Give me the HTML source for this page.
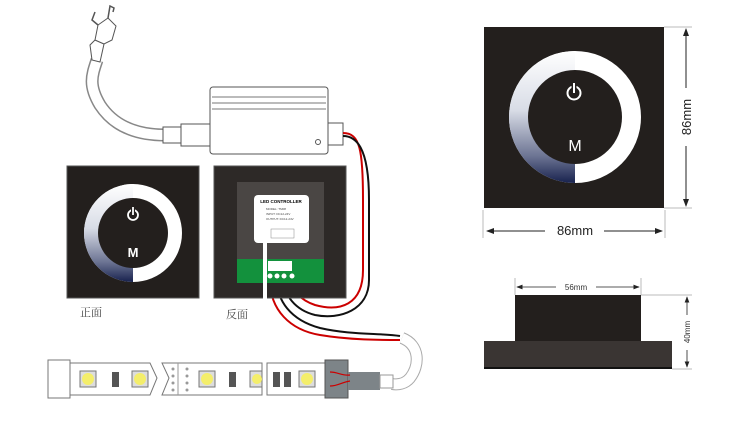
<!DOCTYPE html>
<html><head><meta charset="utf-8"><style>
html,body{margin:0;padding:0;background:#fff;width:750px;height:448px;overflow:hidden}
svg{display:block}
</style></head><body>
<svg width="750" height="448" viewBox="0 0 750 448" xmlns="http://www.w3.org/2000/svg" font-family="Liberation Sans, sans-serif">
<defs>
<linearGradient id="g1" x1="0" y1="0" x2="0" y2="1">
<stop offset="0" stop-color="#fff"/><stop offset="0.45" stop-color="#d8dce6"/><stop offset="0.8" stop-color="#6b7392"/><stop offset="1" stop-color="#18224e"/></linearGradient>
<marker id="ar" markerWidth="8" markerHeight="8" refX="7" refY="4" orient="auto"><path d="M0,1 L8,4 L0,7z" fill="#222"/></marker>
</defs>
<!-- plug & cable -->
<path d="M97,60 C92,75 88,85 100,105 C115,128 140,135 165,135" stroke="#888" stroke-width="13" fill="none"/>
<path d="M97,60 C92,75 88,85 100,105 C115,128 140,135 165,135" stroke="#fff" stroke-width="10" fill="none"/>
<path d="M90,45 L95,40 L104,44 L100,62 L92,60 Z" fill="#fff" stroke="#555"/>
<path d="M95,40 L98,25 L108,18 L116,26 L112,40 L104,44 Z" fill="#fff" stroke="#555"/>
<path d="M98,25 L92,20 L95,12 M108,18 L110,6 L114,8 L113,12" stroke="#555" stroke-width="1.5" fill="none"/>
<rect x="163" y="127" width="18" height="16" fill="#fff" stroke="#555"/>
<rect x="181" y="124" width="29" height="22" fill="#fff" stroke="#555"/>
<!-- controller box -->
<rect x="210" y="87" width="118" height="67" rx="3" fill="#fff" stroke="#555"/>
<line x1="212" y1="97" x2="326" y2="97" stroke="#777"/>
<line x1="212" y1="103" x2="326" y2="103" stroke="#777"/>
<line x1="212" y1="109" x2="326" y2="109" stroke="#777"/>
<circle cx="318" cy="142" r="2.5" fill="#fff" stroke="#555"/>
<rect x="328" y="123" width="15" height="22" fill="#fff" stroke="#555"/>
<!-- wires -->
<path d="M343,133 C360,133 363,150 363,200 L363,270 C363,305 340,312 315,305 C300,300 292,290 292,280" stroke="#c00" stroke-width="2" fill="none"/>
<path d="M343,136 C355,136 369,145 369,200 L369,280 C369,310 340,320 315,315 C295,310 284,295 284,280" stroke="#111" stroke-width="2" fill="none"/>
<path d="M277,280 C277,300 290,320 320,328 C350,335 380,333 400,336" stroke="#111" stroke-width="2" fill="none"/>
<path d="M270,280 C270,310 290,330 320,335 C350,340 380,340 400,340" stroke="#c00" stroke-width="2" fill="none"/>
<path d="M402,338 C420,345 420,365 410,378 C405,384 398,385 392,384" stroke="#aaa" stroke-width="12" fill="none"/>
<path d="M402,338 C420,345 420,365 410,378 C405,384 398,385 392,384" stroke="#fff" stroke-width="10" fill="none"/>
<!-- front panel -->
<rect x="67" y="166" width="132" height="132" fill="#231f1d" stroke="#555"/>
<circle cx="133" cy="233" r="49" fill="#fff"/>
<path d="M133,184 A49,49 0 0 0 133,282 Z" fill="url(#g1)"/>
<circle cx="133" cy="233" r="35" fill="#231f1d"/>
<circle cx="133" cy="215" r="5" fill="none" stroke="#fff" stroke-width="1.8"/>
<line x1="133" y1="207" x2="133" y2="215" stroke="#231f1d" stroke-width="4"/>
<line x1="133" y1="207" x2="133" y2="215" stroke="#fff" stroke-width="1.8"/>
<text x="133" y="257" fill="#fff" font-size="13" font-weight="bold" text-anchor="middle">M</text>
<text x="80" y="316" font-size="11" fill="#444" font-family="Liberation Serif, Noto Serif CJK SC, serif">正面</text>
<!-- back panel -->
<rect x="214" y="166" width="132" height="132" fill="#2d2927" stroke="#555"/>
<rect x="237" y="182" width="87" height="101" fill="#4a4644"/>
<rect x="237" y="259" width="87" height="24" fill="#13913d"/>
<rect x="254" y="195" width="55" height="48" rx="4" fill="#fff"/>
<text x="281" y="203" font-size="4.5" text-anchor="middle" font-weight="bold">LED CONTROLLER</text>
<text x="266" y="210" font-size="3" fill="#444">MODEL: TM08</text>
<text x="266" y="215" font-size="3" fill="#444">INPUT: DC12-24V</text>
<text x="266" y="220" font-size="3" fill="#444">OUTPUT: DC12-24V</text>
<rect x="271" y="229" width="23" height="9" fill="#fff" stroke="#888" stroke-width="0.5"/>
<rect x="268" y="261" width="24" height="10" fill="#fff"/>
<circle cx="270" cy="276" r="2.5" fill="#fff"/><circle cx="277" cy="276" r="2.5" fill="#fff"/><circle cx="284" cy="276" r="2.5" fill="#fff"/><circle cx="292" cy="276" r="2.5" fill="#fff"/>
<line x1="265" y1="243" x2="265" y2="300" stroke="#fff" stroke-width="4"/>
<text x="226" y="318" font-size="11" fill="#444" font-family="Liberation Serif, Noto Serif CJK SC, serif">反面</text>
<!-- LED strip -->
<rect x="48" y="360" width="22" height="38" fill="#fff" stroke="#777"/>
<path d="M70,363 L150,363 L157,378 L150,395 L70,395 Z" fill="#fff" stroke="#777"/>
<path d="M162,363 L262,363 L262,395 L162,395 L169,378 Z" fill="#fff" stroke="#777"/>
<rect x="267" y="363" width="58" height="32" fill="#fff" stroke="#777"/>
<line x1="178" y1="363" x2="178" y2="395" stroke="#999"/>
<g fill="#999"><circle cx="173" cy="369" r="1.5"/><circle cx="173" cy="376" r="1.5"/><circle cx="173" cy="383" r="1.5"/><circle cx="173" cy="390" r="1.5"/><circle cx="187" cy="369" r="1.5"/><circle cx="187" cy="376" r="1.5"/><circle cx="187" cy="383" r="1.5"/><circle cx="187" cy="390" r="1.5"/></g>
<g stroke="#777" fill="#ddd">
<rect x="80" y="371" width="16" height="16"/><rect x="132" y="371" width="16" height="16"/><rect x="199" y="371" width="16" height="16"/><rect x="250" y="371" width="12" height="16"/><rect x="299" y="371" width="16" height="16"/>
</g>
<g fill="#f4ee6a"><circle cx="88" cy="379" r="6"/><circle cx="140" cy="379" r="6"/><circle cx="207" cy="379" r="6"/><circle cx="257" cy="379" r="5"/><circle cx="307" cy="379" r="6"/></g>
<g fill="#555"><rect x="112" y="372" width="7" height="15"/><rect x="229" y="372" width="7" height="15"/><rect x="273" y="372" width="7" height="15"/><rect x="284" y="372" width="7" height="15"/></g>
<rect x="325" y="360" width="23" height="38" fill="#7d8488" stroke="#555"/>
<rect x="348" y="372" width="32" height="18" fill="#7d8488"/>
<rect x="380" y="375" width="13" height="13" fill="#fff" stroke="#999"/>
<path d="M330,372 C338,372 342,376 350,375 M330,386 C338,386 342,382 350,381" stroke="#c00" stroke-width="1.2" fill="none"/>
<!-- right top panel -->
<rect x="484" y="27" width="180" height="181" fill="#231f1d"/>
<circle cx="575" cy="117" r="66" fill="#fff"/>
<path d="M575,51 A66,66 0 0 0 575,183 Z" fill="url(#g1)"/>
<circle cx="575" cy="117" r="47" fill="#231f1d"/>
<circle cx="574" cy="93" r="6.5" fill="none" stroke="#fff" stroke-width="2"/>
<line x1="574" y1="83" x2="574" y2="93" stroke="#231f1d" stroke-width="5"/>
<line x1="574" y1="83" x2="574" y2="93" stroke="#fff" stroke-width="2"/>
<text x="575" y="151" fill="#fff" font-size="16" text-anchor="middle">M</text>
<line x1="664" y1="27" x2="692" y2="27" stroke="#bbb"/>
<line x1="664" y1="208" x2="692" y2="208" stroke="#bbb"/>
<line x1="686" y1="88" x2="686" y2="29" stroke="#222" marker-end="url(#ar)"/>
<line x1="686" y1="146" x2="686" y2="206" stroke="#222" marker-end="url(#ar)"/>
<text transform="translate(691,117) rotate(-90)" font-size="13" text-anchor="middle" fill="#222">86mm</text>
<line x1="483" y1="210" x2="483" y2="238" stroke="#bbb"/>
<line x1="665" y1="210" x2="665" y2="238" stroke="#bbb"/>
<line x1="545" y1="231" x2="487" y2="231" stroke="#222" marker-end="url(#ar)"/>
<line x1="604" y1="231" x2="662" y2="231" stroke="#222" marker-end="url(#ar)"/>
<text x="575" y="235" font-size="13" text-anchor="middle" fill="#222">86mm</text>
<!-- side view -->
<rect x="515" y="295" width="126" height="46" fill="#231f1d"/>
<rect x="484" y="341" width="188" height="28" fill="#3a3533"/>
<line x1="484" y1="368" x2="672" y2="368" stroke="#111" stroke-width="2"/>
<line x1="515" y1="278" x2="515" y2="295" stroke="#bbb"/>
<line x1="641" y1="278" x2="641" y2="295" stroke="#bbb"/>
<line x1="556" y1="287" x2="517" y2="287" stroke="#222" stroke-width="0.8" marker-end="url(#ar)"/>
<line x1="596" y1="287" x2="639" y2="287" stroke="#222" stroke-width="0.8" marker-end="url(#ar)"/>
<text x="576" y="290" font-size="8" text-anchor="middle" fill="#333">56mm</text>
<line x1="641" y1="295" x2="692" y2="295" stroke="#bbb"/>
<line x1="672" y1="369" x2="692" y2="369" stroke="#bbb"/>
<line x1="687" y1="315" x2="687" y2="297" stroke="#222" stroke-width="0.8" marker-end="url(#ar)"/>
<line x1="687" y1="350" x2="687" y2="367" stroke="#222" stroke-width="0.8" marker-end="url(#ar)"/>
<text transform="translate(690,332) rotate(-90)" font-size="8" text-anchor="middle" fill="#333">40mm</text>
</svg>
</body></html>
